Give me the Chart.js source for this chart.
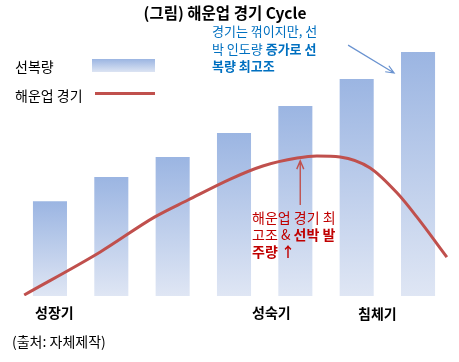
<!DOCTYPE html>
<html>
<head>
<meta charset="utf-8">
<script src="https://cdn.jsdelivr.net/npm/chart.js@4"></script>
<style>
body { margin: 0; background: #fff; }
#wrap { position: relative; width: 459px; height: 362px; font-family: "Noto Sans CJK KR", "Noto Sans", sans-serif; }
#wrap div.t { position: absolute; white-space: nowrap; }
canvas { position: absolute; left: 0; top: 0; }
</style>
</head>
<body>
<div id="wrap">
<canvas id="chart" width="459" height="362"></canvas>
<div class="t" style="left:0;width:450px;text-align:center;top:2px;font-size:15.5px;line-height:20px;font-weight:bold;color:#000">(그림) 해운업 경기 Cycle</div>
<div class="t" style="left:15px;top:57px;font-size:14px;line-height:18px;color:#000">선복량</div>
<div class="t" style="left:92px;top:59px;width:63px;height:13px;background:linear-gradient(#9bb5e2,#dce4f3)"></div>
<div class="t" style="left:15px;top:86px;font-size:14px;line-height:18px;color:#000">해운업 경기</div>
<div class="t" style="left:95px;top:92px;width:60px;height:3px;background:#c0504d"></div>
<div class="t" style="left:212px;top:22px;font-size:13px;line-height:17.5px;color:#0070c0">경기는 꺾이지만, 선<br>박 인도량 <b>증가로 선</b><br><b>복량 최고조</b></div>
<div class="t" style="left:252px;top:209px;font-size:14px;line-height:17px;color:#c00000">해운업 경기 최<br>고조 &amp; <b>선박 발</b><br><b>주량 ↑</b></div>
<div class="t" style="left:35px;top:303px;font-size:14px;line-height:18px;font-weight:bold;color:#000">성장기</div>
<div class="t" style="left:252px;top:303px;font-size:14px;line-height:18px;font-weight:bold;color:#000">성숙기</div>
<div class="t" style="left:358px;top:304px;font-size:14px;line-height:18px;font-weight:bold;color:#000">침체기</div>
<div class="t" style="left:12px;top:332px;font-size:14px;line-height:18px;color:#000">(출처: 자체제작)</div>
</div>
<script>
// 선복량 막대 (7 구간)
const periods = ['1', '2', '3', '4', '5', '6', '7']
const fleetValues = [37, 46.5, 54.3, 63.7, 74.2, 84.8, 95.3]

// 해운업 경기 곡선 (x: 구간 위치, y: 경기 수준)
const cycleX = [-0.42, 0.82, 1.71, 2.25, 2.94, 3.47, 4.03, 4.35, 4.73, 5.22, 5.66, 5.98, 6.47]
const cycleY = [0.4, 17.2, 30.9, 37.5, 45.7, 50.8, 53.9, 54.7, 54.3, 50.0, 40.2, 30.9, 15.2]

// 화살표 (시작, 끝) 위치
const blueArrow = [[4.86, 98], [5.61, 87.1]]
const redArrow = [[4.08, 35.5], [4.08, 52.8]]

const cyclePoints = cycleX.map((x, i) => ({ x: x, y: cycleY[i] }))

function barGradient(ctx) {
	const chart = ctx.chart
	if (!chart.chartArea) return '#9bb5e2'
	const ys = chart.scales.y
	const top = ys.getPixelForValue(ctx.raw)
	const bottom = ys.getPixelForValue(0)
	const g = chart.ctx.createLinearGradient(0, top, 0, bottom)
	g.addColorStop(0, '#9bb5e2')
	g.addColorStop(1, '#dfe6f4')
	return g
}

function drawArrow(c, x1, y1, x2, y2, color, width) {
	const a = Math.atan2(y2 - y1, x2 - x1)
	const h = 9
	c.save()
	c.strokeStyle = color
	c.lineWidth = width
	c.beginPath()
	c.moveTo(x1, y1)
	c.lineTo(x2, y2)
	c.moveTo(x2 - h * Math.cos(a - 0.4), y2 - h * Math.sin(a - 0.4))
	c.lineTo(x2, y2)
	c.lineTo(x2 - h * Math.cos(a + 0.4), y2 - h * Math.sin(a + 0.4))
	c.stroke()
	c.restore()
}

const arrows = {
	id: 'arrows',
	afterDraw(chart) {
		const xs = chart.scales.x2, ys = chart.scales.y
		const px = p => [xs.getPixelForValue(p[0]), ys.getPixelForValue(p[1])]
		let s = px(blueArrow[0]), e = px(blueArrow[1])
		drawArrow(chart.ctx, s[0], s[1], e[0], e[1], '#6a93d0', 1.2)
		s = px(redArrow[0]); e = px(redArrow[1])
		drawArrow(chart.ctx, s[0], s[1], e[0], e[1], '#c0504d', 1.4)
	}
}

new Chart(document.getElementById('chart'), {
	type: 'bar',
	data: {
		labels: periods,
		datasets: [
			{
				label: '선복량',
				data: fleetValues,
				xAxisID: 'x',
				order: 2,
				backgroundColor: barGradient,
				grouped: false,
				categoryPercentage: 1,
				barPercentage: 0.555
			},
			{
				type: 'line',
				label: '해운업 경기',
				data: cyclePoints,
				xAxisID: 'x2',
				order: 1,
				borderColor: '#c0504d',
				borderWidth: 3,
				pointRadius: 0,
				cubicInterpolationMode: 'monotone',
				fill: false
			}
		]
	},
	options: {
		responsive: false,
		animation: false,
		devicePixelRatio: 1,
		layout: { padding: { left: 19.3, right: 10.3, top: 40, bottom: 66 } },
		plugins: { legend: { display: false }, tooltip: { enabled: false } },
		scales: {
			x: { display: false, offset: true },
			x2: { type: 'linear', display: false, offset: false, min: -0.5, max: 6.5 },
			y: { display: false, min: 0, max: 100 }
		}
	},
	plugins: [arrows]
})
</script>
</body>
</html>
